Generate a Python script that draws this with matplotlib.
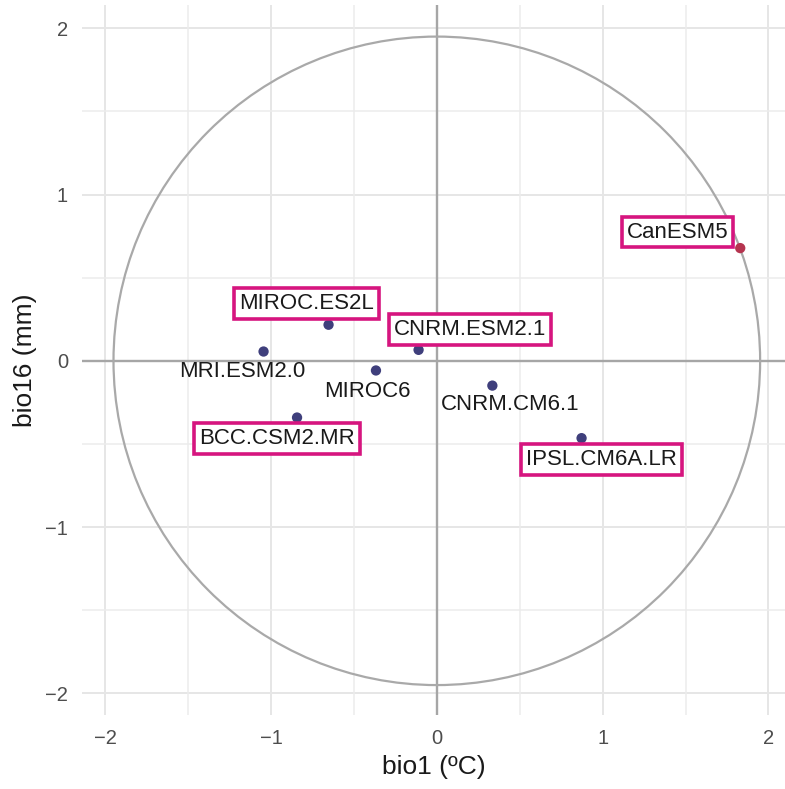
import matplotlib
matplotlib.use("Agg")
import matplotlib.pyplot as plt
from matplotlib.patches import Circle

# data
models = ["CanESM5", "MIROC.ES2L", "CNRM.ESM2.1", "MRI.ESM2.0",
          "MIROC6", "CNRM.CM6.1", "BCC.CSM2.MR", "IPSL.CM6A.LR"]
bio1 = [1.83, -0.653, -0.11, -1.045, -0.367, 0.335, -0.843, 0.873]
bio16 = [0.678, 0.217, 0.066, 0.056, -0.058, -0.149, -0.341, -0.465]
boxed = [True, True, True, False, False, False, True, True]
group = ["out", "in", "in", "in", "in", "in", "in", "in"]
circle_radius = 1.95
ticks = [-2, -1, 0, 1, 2]
minor_ticks = [-1.5, -0.5, 0.5, 1.5]

# label placement (pixels from the point)
label_offsets = [(-63, 16), (-22, 21), (51, 20), (-21, -20),
                 (-9, -21), (18, -19), (-20, -21), (20, -21)]
group_colors = {"in": "#3f3f7c", "out": "#b5344f"}

plt.rcParams["font.family"] = ["Liberation Sans", "DejaVu Sans"]

fig = plt.figure(figsize=(7.85, 7.89), dpi=100)
ax = fig.add_axes([82 / 785, 1 - 715 / 789, 1 - 82 / 785, 710 / 789])
ax.set_xlim(-2.14, 2.10)
ax.set_ylim(-2.13, 2.14)

# grid
for t in ticks:
    ax.axvline(t, color="#e6e6e6", lw=1.4, zorder=0)
    ax.axhline(t, color="#e6e6e6", lw=1.4, zorder=0)
for t in minor_ticks:
    ax.axvline(t, color="#ececec", lw=1.1, zorder=0)
    ax.axhline(t, color="#ececec", lw=1.1, zorder=0)
ax.axhline(0, color="#a6a6a6", lw=1.7, zorder=1)
ax.axvline(0, color="#a6a6a6", lw=1.7, zorder=1)

ax.add_patch(Circle((0, 0), circle_radius, fill=False, ec="#a9a9a9", lw=1.6, zorder=2))

cols = [group_colors[g] for g in group]
ax.scatter(bio1, bio16, s=55, c=cols, zorder=3, linewidths=0)

for name, x, y, b, off in zip(models, bio1, bio16, boxed, label_offsets):
    kw = {}
    if b:
        kw["bbox"] = dict(boxstyle="square,pad=0.22", fc="white", ec="#d6157f", lw=2.6)
    ax.annotate(name, (x, y), xytext=off, textcoords="offset pixels",
                ha="center", va="center", fontsize=16, color="#1a1a1a",
                zorder=4, **kw)

ax.set_xticks(ticks)
ax.set_yticks(ticks)
ax.set_xticklabels(["\u22122", "\u22121", "0", "1", "2"])
ax.set_yticklabels(["\u22122", "\u22121", "0", "1", "2"])
ax.tick_params(length=0, labelsize=14.5, labelcolor="#4d4d4d")
ax.tick_params(axis="x", pad=10)
ax.tick_params(axis="y", pad=10)
for s in ax.spines.values():
    s.set_visible(False)

ax.set_xlabel("bio1 (ºC)", fontsize=19, color="#1a1a1a", labelpad=5)
ax.set_ylabel("bio16 (mm)", fontsize=19, color="#1a1a1a", labelpad=6)

fig.savefig("out.png", dpi=100)
